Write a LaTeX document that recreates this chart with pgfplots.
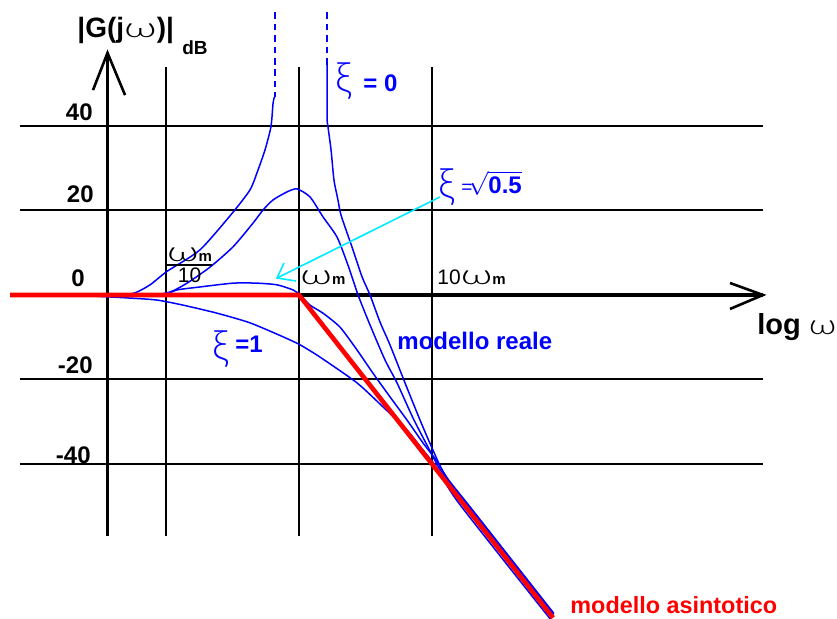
\documentclass[border=0pt]{standalone}
\usepackage{amsmath}
\usepackage{graphicx}
\usepackage{pgfplots}
\pgfplotsset{compat=1.18}
\usepackage{fontspec}
\setmainfont{Liberation Sans}
% light face for the Greek letters
\IfFontExistsTF{Lato Light}
  {\newfontfamily\greekthin{Lato Light}}
  {\newfontfamily\greekthin{Liberation Serif}}
\definecolor{bodeblue}{RGB}{0,0,255}
\definecolor{bodered}{RGB}{255,0,0}
\definecolor{bodecyan}{RGB}{0,235,255}
% wide omega and small bold m used in the frequency labels
\newcommand{\om}[1][1.55]{{\greekthin\mdseries\fontsize{14}{14}\selectfont\scalebox{#1}[0.98]{ω}}}
\newcommand{\mm}{{\fontsize{7.5}{8}\selectfont\bfseries m}}

\begin{document}
\begin{tikzpicture}
\useasboundingbox (-10pt,-41.5pt) rectangle (408.5pt,268pt);
\begin{axis}[
  at={(0,0)}, anchor=south west,
  scale only axis, width=371.5pt, height=234.5pt,
  xmin=-2.098, xmax=3.489, ymin=-57.04, ymax=53.96,
  axis lines=none, clip=false,
]
% x = log10(omega/omega_m), y = |G| in dB
% grid
\foreach \gx in {-1,0,1}{
  \edef\temp{\noexpand\draw[black, line width=1pt] (axis cs:\gx,-57.04) -- (axis cs:\gx,53.96);}
  \temp
}
\foreach \gy in {-40,-20,20,40}{
  \edef\temp{\noexpand\draw[black, line width=1pt] (axis cs:-2.098,\gy) -- (axis cs:3.489,\gy);}
  \temp
}
% axes with open arrow heads
\draw[black, line width=1.8pt] (axis cs:-1.440,-57.04) -- (axis cs:-1.440,57.3);
\draw[black, line width=1.3pt] (axis cs:-1.549,48.5) -- (axis cs:-1.440,57.3) -- (axis cs:-1.308,47.3);
\draw[black, line width=1.8pt] (axis cs:-2.098,0) -- (axis cs:3.489,0);
\draw[black, line width=1.3pt] (axis cs:3.241,2.84) -- (axis cs:3.489,0) -- (axis cs:3.241,-3.31);

% real model, xi = 0 (two branches)
\addplot[bodeblue, line width=0.75pt, smooth, tension=0.4] coordinates {
  (-1.586,0) (-1.346,0) (-1.233,0.5) (-1.120,2.4) (-0.992,5.6) (-0.744,10.7)
  (-0.496,19.6) (-0.368,24.9) (-0.316,28.9) (-0.256,34.3) (-0.211,39.8)
  (-0.195,45.4) (-0.184,46.9)
};
\addplot[bodeblue, line width=1pt, dash pattern=on 3.3pt off 2.4pt] coordinates {
  (-0.184,66.9) (-0.184,46.9)
};
\addplot[bodeblue, line width=1pt, dash pattern=on 3.3pt off 2.4pt] coordinates {
  (0.211,66.9) (0.211,54.4)
};
\addplot[bodeblue, line width=0.75pt, smooth, tension=0.4] coordinates {
  (0.211,54.4) (0.211,42.1) (0.218,39.8) (0.241,34.3) (0.263,27.2) (0.293,22.5)
  (0.316,18.9) (0.398,11.4) (0.474,4.3) (0.534,0) (0.609,-6.4) (0.684,-11.8)
  (0.797,-20.8) (0.910,-29.6) (1.000,-36.2) (1.098,-42.6) (1.300,-50.7)
  (1.915,-75.3)
};
% real model, small damping (resonance peak)
\addplot[bodeblue, line width=0.75pt, smooth, tension=0.4] coordinates {
  (-1.586,0) (-1.120,0) (-0.970,0.7) (-0.842,2.8) (-0.669,6.6) (-0.496,11.4)
  (-0.346,17.0) (-0.271,20.1) (-0.195,22.5) (-0.090,24.4) (-0.015,25.1)
  (0.083,23.2) (0.180,18.5) (0.286,13.7) (0.368,7.1) (0.444,0) (0.534,-7.1)
  (0.647,-15.4) (0.737,-20.8) (0.857,-29.1) (0.962,-35.5) (1.075,-42.0)
  (1.300,-50.9) (1.915,-75.5)
};
% real model, xi = sqrt(0.5)
\addplot[bodeblue, line width=0.75pt, smooth, tension=0.4] coordinates {
  (-1.586,0) (-1.045,0) (-0.917,1.2) (-0.744,1.9) (-0.496,2.8) (-0.316,2.8)
  (-0.165,2.4) (-0.045,1.2) (0.008,0) (0.083,-2.4) (0.180,-4.3) (0.308,-7.6)
  (0.436,-13.0) (0.556,-18.5) (0.684,-24.1) (0.812,-29.6) (0.932,-35.0)
  (1.038,-39.4) (1.200,-47.3) (1.915,-75.9)
};
% real model, xi = 1
\addplot[bodeblue, line width=0.75pt, smooth, tension=0.4] coordinates {
  (-1.586,-0.2) (-1.286,-0.7) (-1.068,-1.2) (-0.872,-2.4) (-0.617,-4.3)
  (-0.368,-6.6) (-0.120,-9.9) (0.008,-11.8) (0.158,-14.7) (0.436,-20.8)
  (0.632,-26.5) (0.812,-32.0) (0.932,-36.7) (1.038,-40.9) (1.200,-49.2)
  (1.915,-77.7)
};
% asymptotic model
\addplot[bodered, line width=2.3pt] coordinates {
  (-2.173,0) (0,0) (1,-40) (1.910,-76.4)
};

% pointer to the xi = sqrt(0.5) curve
\draw[bodecyan, line width=0.8pt] (axis cs:1.060,23.2) -- (axis cs:-0.165,4.02);
\draw[bodecyan, line width=0.8pt] (axis cs:-0.113,7.57) -- (axis cs:-0.165,4.02) -- (axis cs:-0.023,3.31);

% labels
\node[anchor=base west, inner sep=0, font=\fontsize{14}{16}\selectfont\bfseries]
  at (axis cs:-1.669,60.83) {|G(j\om[1.6])|};
\node[anchor=base west, inner sep=0, font=\fontsize{9.5}{10}\selectfont\bfseries]
  at (axis cs:-0.880,56.8) {dB};
\begin{scope}[every node/.style={anchor=base east, inner sep=0,
    font=\fontsize{12}{13}\selectfont\bfseries}]
  \node at (axis cs:-1.549,41.4) {40};
  \node at (axis cs:-1.541,21.8) {20};
  \node at (axis cs:-1.609,1.9) {0};
  \node at (axis cs:-1.549,-18.7) {-20};
  \node at (axis cs:-1.564,-39.8) {-40};
\end{scope}
\node[inner sep=0, font=\fontsize{10.5}{12}\selectfont]
  at (axis cs:-0.823,7.0)
  {$\genfrac{}{}{0.9pt}{1}{\hbox{\om\mm}}{\hbox{10}}$};
\node[anchor=base west, inner sep=0, font=\fontsize{10.5}{12}\selectfont]
  at (axis cs:0.008,2.37) {\om\mm};
\node[anchor=base west, inner sep=0, font=\fontsize{10.5}{12}\selectfont]
  at (axis cs:1.038,2.37) {10\om\mm};
\node[anchor=base west, inner sep=0, font=\fontsize{14.5}{16}\selectfont\bfseries]
  at (axis cs:3.444,-9.47) {log \om[1.35]};

% damping annotations
\node[inner sep=0, text=bodeblue, font=\fontsize{21}{22}\selectfont\greekthin]
  at (axis cs:0.338,50.5) {ξ};
\node[anchor=base west, inner sep=0, text=bodeblue, font=\fontsize{12}{14}\selectfont\bfseries]
  at (axis cs:0.481,48.05) {= 0};
\node[inner sep=0, text=bodeblue, font=\fontsize{21}{22}\selectfont\greekthin]
  at (axis cs:1.109,25.4) {ξ};
\node[anchor=base west, inner sep=0, text=bodeblue, font=\fontsize{12}{14}\selectfont]
  at (axis cs:1.218,24.1) {{\fontsize{9.5}{10}\selectfont =}$\!\sqrt{\hbox{\bfseries 0.5}}$};
\node[inner sep=0, text=bodeblue, font=\fontsize{21}{22}\selectfont\greekthin]
  at (axis cs:-0.594,-12.8) {ξ};
\node[anchor=base west, inner sep=0, text=bodeblue, font=\fontsize{12}{14}\selectfont\bfseries]
  at (axis cs:-0.481,-13.5) {=1};
\node[anchor=base west, inner sep=0, text=bodeblue, font=\fontsize{12}{14}\selectfont\bfseries]
  at (axis cs:0.737,-13.0) {modello reale};
\node[anchor=base west, inner sep=0, text=bodered, font=\fontsize{11.7}{14}\selectfont\bfseries]
  at (axis cs:2.038,-75.3) {modello asintotico};
\end{axis}
\end{tikzpicture}
\end{document}
